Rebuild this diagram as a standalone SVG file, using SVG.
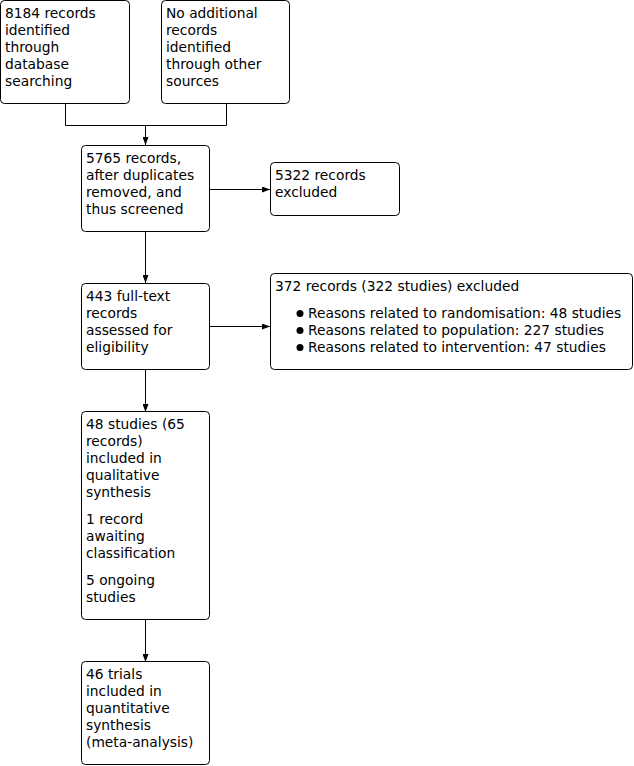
<svg xmlns="http://www.w3.org/2000/svg" width="634" height="766" viewBox="0 0 634 766">
<defs>
<marker id="ah" markerWidth="8" markerHeight="6" refX="8" refY="3" orient="auto" markerUnits="userSpaceOnUse">
<path d="M0,0 L8,3 L0,6 Z" fill="#000"/>
</marker>
<style>
.b{fill:#fff;stroke:#000;stroke-width:1}
text{font-family:"DejaVu Sans",Verdana,sans-serif;font-size:13.8px;fill:#000}
.c{fill:none;stroke:#000;stroke-width:1}
</style>
</defs>
<rect width="634" height="766" fill="#fff"/>
<g id="connectors">
<path class="c" d="M65.5,104 V125.5 H226.5 V104"/>
<path class="c" d="M145.5,125.5 V145" marker-end="url(#ah)"/>
<path class="c" d="M209,189.5 H270" marker-end="url(#ah)"/>
<path class="c" d="M145.5,232 V283" marker-end="url(#ah)"/>
<path class="c" d="M209,326.5 H270" marker-end="url(#ah)"/>
<path class="c" d="M145.5,370 V412" marker-end="url(#ah)"/>
<path class="c" d="M145.5,620 V662" marker-end="url(#ah)"/>
</g>
<g id="n1"><rect class="b" x="0.5" y="0.5" width="129" height="103" rx="4"/>
<text x="5" y="18">8184 records</text><text x="5" y="35">identified</text><text x="5" y="52">through</text><text x="5" y="69">database</text><text x="5" y="86">searching</text></g>
<g id="n2"><rect class="b" x="161.5" y="0.5" width="128" height="103" rx="4"/>
<text x="166" y="18">No additional</text><text x="166" y="35">records</text><text x="166" y="52">identified</text><text x="166" y="69">through other</text><text x="166" y="86">sources</text></g>
<g id="n3"><rect class="b" x="81.5" y="145.5" width="128" height="86" rx="4"/>
<text x="86" y="163">5765 records,</text><text x="86" y="180">after duplicates</text><text x="86" y="197">removed, and</text><text x="86" y="214">thus screened</text></g>
<g id="n4"><rect class="b" x="270.5" y="162.5" width="129" height="53" rx="4"/>
<text x="275" y="180">5322 records</text><text x="275" y="197">excluded</text></g>
<g id="n5"><rect class="b" x="81.5" y="283.5" width="128" height="86" rx="4"/>
<text x="86" y="301">443 full-text</text><text x="86" y="318">records</text><text x="86" y="335">assessed for</text><text x="86" y="352">eligibility</text></g>
<g id="n6"><rect class="b" x="270.5" y="273.5" width="362" height="96" rx="4"/>
<text x="275" y="291">372 records (322 studies) excluded</text>
<circle cx="300" cy="313.5" r="3.5"/><text x="308" y="318">Reasons related to randomisation: 48 studies</text>
<circle cx="300" cy="330.5" r="3.5"/><text x="308" y="335">Reasons related to population: 227 studies</text>
<circle cx="300" cy="347.5" r="3.5"/><text x="308" y="352">Reasons related to intervention: 47 studies</text></g>
<g id="n7"><rect class="b" x="81.5" y="411.5" width="128" height="208" rx="4"/>
<text x="86" y="429">48 studies (65</text><text x="86" y="446">records)</text><text x="86" y="463">included in</text><text x="86" y="480">qualitative</text><text x="86" y="497">synthesis</text>
<text x="86" y="524">1 record</text><text x="86" y="541">awaiting</text><text x="86" y="558">classification</text>
<text x="86" y="585">5 ongoing</text><text x="86" y="602">studies</text></g>
<g id="n8"><rect class="b" x="81.5" y="661.5" width="128" height="103" rx="4"/>
<text x="86" y="679">46 trials</text><text x="86" y="696">included in</text><text x="86" y="713">quantitative</text><text x="86" y="730">synthesis</text><text x="86" y="747">(meta-analysis)</text></g>
</svg>
